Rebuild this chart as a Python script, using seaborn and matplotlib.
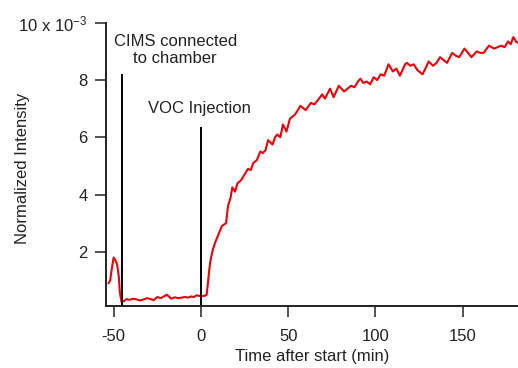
import pandas as pd
import numpy as np
import matplotlib
matplotlib.use("Agg")
import matplotlib.pyplot as plt
import seaborn as sns

## valores (intensidade em unidades de 1e-3)

time_min = [-53, -52, -51, -50, -49, -48, -47, -46.5, -45.5, -44, -42.5, -41, -39, -37,
            -35, -33, -31, -29, -27, -25, -23, -21, -19.5, -17, -15, -13, -11, -9, -7.5,
            -5.5, -4, -2.5, -1, 0.5, 2, 3.3, 5.2, 6.5, 8, 10, 12, 14.4, 15.5, 17, 18, 19.5,
            21, 23, 25, 27, 28.5, 30, 32, 34, 35.5, 37, 38.5, 41, 42.5, 43.7, 45.5, 47, 49,
            51, 54, 57, 60, 63, 65, 67, 69.5, 71, 74, 76, 79, 82, 84, 86, 88, 90, 91.4, 93,
            95, 97, 99, 101, 103, 105, 107.5, 110, 112, 114, 117, 118, 120, 122, 124, 127,
            129, 130.5, 133, 135, 137, 139, 141, 144, 146, 148, 151, 153, 155, 158, 160,
            162, 165, 168, 170, 172, 174, 176, 177.5, 179, 180.5, 181.5]

intensity_e3 = [0.9, 1.0, 1.45, 1.8, 1.7, 1.55, 1.1, 0.6, 0.25, 0.28, 0.35, 0.32, 0.36, 0.34,
                0.30, 0.33, 0.38, 0.35, 0.31, 0.42, 0.38, 0.45, 0.50, 0.36, 0.41, 0.38, 0.40,
                0.42, 0.40, 0.44, 0.42, 0.48, 0.46, 0.45, 0.46, 0.50, 1.6, 2.0, 2.3, 2.6, 2.9,
                3.0, 3.6, 3.9, 4.25, 4.1, 4.4, 4.5, 4.7, 4.9, 4.85, 5.1, 5.2, 5.5, 5.45, 5.55,
                5.9, 5.75, 6.0, 6.1, 6.0, 6.45, 6.2, 6.65, 6.8, 7.1, 6.95, 7.2, 7.15, 7.3, 7.5,
                7.35, 7.7, 7.4, 7.8, 7.6, 7.7, 7.8, 7.75, 7.95, 8.05, 7.9, 7.95, 7.85, 8.1,
                8.0, 8.2, 8.15, 8.55, 8.3, 8.4, 8.15, 8.55, 8.6, 8.5, 8.55, 8.35, 8.2, 8.45,
                8.65, 8.5, 8.6, 8.8, 8.7, 8.6, 8.95, 8.85, 8.8, 9.1, 8.95, 8.8, 9.0, 8.95,
                8.95, 9.2, 9.1, 9.15, 9.2, 9.15, 9.35, 9.25, 9.5, 9.35, 9.3]

## eventos marcados com linhas verticais
event_times = [-45.5, 0]
event_tops = [8.2, 6.35]
event_labels = ['CIMS connected\nto chamber', 'VOC Injection']
label_x = [-14.7, -1]
label_y = [9.06, 7.02]

y_ticks = [2, 4, 6, 8, 10]
y_ticklabels = ['2', '4', '6', '8', '10 x 10$^{-3}$']
x_ticks = [-50, 0, 50, 100, 150]

df = pd.DataFrame({'time': time_min, 'intensity': intensity_e3})

# %%
sns.set_style('ticks')
plt.rcParams['font.family'] = ['Liberation Sans', 'DejaVu Sans']
plt.rcParams['axes.unicode_minus'] = False
plt.rcParams['mathtext.fontset'] = 'custom'
plt.rcParams['mathtext.rm'] = 'Liberation Sans'
plt.rcParams['mathtext.it'] = 'Liberation Sans:italic'
plt.rcParams['mathtext.bf'] = 'Liberation Sans:bold'

fs = 12
fig = plt.figure(figsize=(5.18, 3.68), dpi=100)
ax = fig.add_axes([0.2046, 0.168, 0.7954, 0.77])

sns.lineplot(data=df, x='time', y='intensity', color='#e8000b', linewidth=1.5, ax=ax)

ax.vlines(event_times, 0, event_tops, color='black', linewidth=1.4)
for tx, ty, txt in zip(label_x, label_y, event_labels):
    ax.text(tx, ty, txt, ha='center', va='center', fontsize=fs, color='#222222',
            linespacing=1.2)

ax.set_xlim(-54.4, 181.7)
ax.set_ylim(0.1, 10)
ax.set_xticks(x_ticks)
ax.set_yticks(y_ticks)
ax.set_yticklabels(y_ticklabels)

ax.set_xlabel('Time after start (min)', fontsize=fs, color='#222222', labelpad=3)
ax.set_ylabel('Normalized Intensity', fontsize=fs, color='#222222')
ax.yaxis.set_label_coords(-0.185, 0.485)

ax.tick_params(axis='both', direction='out', length=7.7, width=1.1, labelsize=fs,
               colors='#222222')
ax.tick_params(axis='x', pad=9)
ax.tick_params(axis='y', pad=5.5)
for s in ['top', 'right']:
    ax.spines[s].set_visible(False)
for s in ['left', 'bottom']:
    ax.spines[s].set_linewidth(1.4)
    ax.spines[s].set_color('#222222')

plt.savefig('out.png', dpi=100)
